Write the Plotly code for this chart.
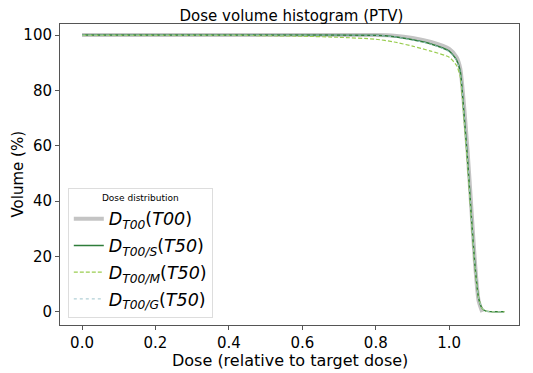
import plotly.graph_objects as go

# Data
dose_t00 = [0.0, 0.2, 0.4, 0.6, 0.8, 0.85, 0.9, 0.95, 1.0, 1.02, 1.03, 1.04, 1.05, 1.06, 1.07, 1.08, 1.09]
vol_t00 = [100, 100, 100, 100, 100, 99.8, 99.0, 97.5, 95.0, 92.0, 88.0, 75.0, 58.0, 38.0, 18.0, 4.0, 0.0]

dose_s = [0.0, 0.2, 0.4, 0.6, 0.8, 0.85, 0.9, 0.95, 1.0, 1.02, 1.03, 1.04, 1.05, 1.06, 1.07, 1.08, 1.09, 1.1, 1.12, 1.15]
vol_s = [100, 100, 100, 100, 99.9, 99.4, 98.3, 96.8, 94.2, 91.0, 87.0, 72.0, 55.0, 35.0, 17.0, 5.0, 1.2, 0.3, 0.1, 0.1]

dose_m = [0.0, 0.2, 0.4, 0.5, 0.6, 0.7, 0.8, 0.85, 0.9, 0.95, 1.0, 1.02, 1.03, 1.04, 1.05, 1.06, 1.07, 1.08, 1.09, 1.1, 1.12, 1.15]
vol_m = [99.9, 99.9, 99.9, 99.8, 99.6, 99.2, 98.5, 97.5, 96.0, 94.2, 92.0, 89.0, 85.0, 70.0, 53.0, 34.0, 16.0, 5.0, 1.2, 0.3, 0.1, 0.1]

dose_g = [0.0, 0.2, 0.4, 0.6, 0.8, 0.85, 0.9, 0.95, 1.0, 1.02, 1.03, 1.04, 1.05, 1.06, 1.07, 1.08, 1.09, 1.1, 1.12, 1.15]
vol_g = [100, 100, 100, 100, 99.9, 99.4, 98.2, 96.7, 94.0, 90.8, 86.8, 71.8, 54.8, 34.8, 16.8, 4.9, 1.2, 0.3, 0.1, 0.1]

names = [
    "<i>D</i><sub><i>T00</i></sub>(<i>T00</i>)",
    "<i>D</i><sub><i>T00/S</i></sub>(<i>T50</i>)",
    "<i>D</i><sub><i>T00/M</i></sub>(<i>T50</i>)",
    "<i>D</i><sub><i>T00/G</i></sub>(<i>T50</i>)",
]

fig = go.Figure()
fig.add_trace(go.Scatter(x=dose_t00, y=vol_t00, mode="lines", name=names[0], legendgroup="a",
                         line=dict(color="#c4c4c4", width=4, shape="spline", smoothing=0.6)))
fig.add_trace(go.Scatter(x=dose_s, y=vol_s, mode="lines", name=names[1], legendgroup="b",
                         line=dict(color="#2e7d3a", width=1.5, shape="spline", smoothing=0.6)))
fig.add_trace(go.Scatter(x=dose_m, y=vol_m, mode="lines", name=names[2], legendgroup="c",
                         line=dict(color="#9acd50", width=1.2, dash="4px,2px", shape="spline", smoothing=0.6)))
fig.add_trace(go.Scatter(x=dose_g, y=vol_g, mode="lines", name=names[3], legendgroup="d",
                         line=dict(color="#9ec4cc", width=1, dash="dot", shape="spline", smoothing=0.6)))

axis_common = dict(showline=True, linecolor="#555", linewidth=1, mirror=True, automargin=False,
                   ticks="outside", ticklen=4, tickcolor="#555", showgrid=False, zeroline=False,
                   tickfont=dict(size=15, color="black"))

# figure is placed at (8, 8) in the page by the default body margin
W, H = 525, 365
fig.update_layout(
    width=W, height=H,
    margin=dict(l=52, r=14, t=16, b=48),
    paper_bgcolor="white", plot_bgcolor="white",
    font=dict(family="DejaVu Sans", color="black"),
    title=dict(text="Dose volume histogram (PTV)", x=0.54, xanchor="center", y=0.979, yanchor="middle",
               font=dict(size=15), pad=dict(t=0, b=0)),
    xaxis=dict(range=[-0.06, 1.19], tickvals=[0, 0.2, 0.4, 0.6, 0.8, 1.0],
               ticktext=["0.0", "0.2", "0.4", "0.6", "0.8", "1.0"], **axis_common),
    yaxis=dict(range=[-4.7, 104.0], tickvals=[0, 20, 40, 60, 80, 100], **axis_common),
    annotations=[
        dict(text="Dose (relative to target dose)", xref="paper", yref="paper", x=0.5, y=0,
             yshift=-35, xanchor="center", yanchor="middle", showarrow=False, font=dict(size=16)),
        dict(text="Volume (%)", xref="paper", yref="paper", x=0, y=0.5, xshift=-43,
             xanchor="center", yanchor="middle", textangle=-90, showarrow=False, font=dict(size=15)),
    ],
    legend=dict(x=0.017, y=0.023, xanchor="left", yanchor="bottom",
                bgcolor="rgba(255,255,255,0.8)", bordercolor="#ddd", borderwidth=1,
                title=dict(text="Dose distribution", font=dict(size=9), side="top center"),
                font=dict(size=17.5), tracegroupgap=1),
)

fig.write_html("out.html")
